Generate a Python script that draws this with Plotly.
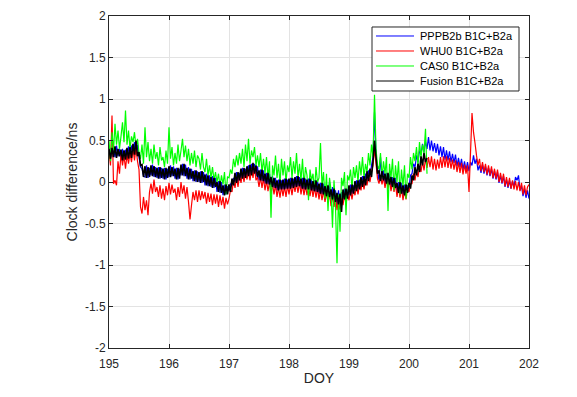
import plotly.graph_objects as go

# ---------------- data ----------------
start_doy = 195.0
step_doy = 0.025

series_names = ["PPPB2b B1C+B2a", "WHU0 B1C+B2a", "CAS0 B1C+B2a", "Fusion B1C+B2a"]

pppb2b = [
    0.29, 0.41, 0.30, 0.42, 0.30, 0.44, 0.31, 0.40, 0.27, 0.40, 0.26, 0.39,
    0.29, 0.43, 0.30, 0.44, 0.34, 0.48, 0.33, 0.45, 0.30, 0.18, 0.16, 0.07,
    0.06, 0.20, 0.05, 0.17, 0.08, 0.21, 0.06, 0.18, 0.05, 0.18, 0.04, 0.17,
    0.04, 0.17, 0.03, 0.16, 0.06, 0.20, 0.07, 0.19, 0.04, 0.17, 0.03, 0.16,
    0.08, 0.22, 0.07, 0.21, 0.04, 0.18, 0.03, 0.16, 0.01, 0.14, 0.00, 0.13,
    0.00, 0.13, -0.01, 0.12, -0.04, 0.10, -0.05, 0.08, -0.06, 0.07, -0.07, 0.05,
    -0.12, 0.01, -0.13, 0.00, -0.16, -0.03, -0.15, -0.05, -0.11, -0.02, -0.05, 0.05,
    0.00, 0.12, -0.01, 0.11, 0.05, 0.17, 0.04, 0.16, 0.08, 0.20, 0.07, 0.22,
    0.10, 0.22, 0.07, 0.19, 0.02, 0.15, 0.01, 0.14, -0.02, 0.11, -0.03, 0.10,
    -0.06, 0.07, -0.07, 0.05, -0.10, 0.03, -0.09, 0.02, -0.09, 0.04, -0.08, 0.03,
    -0.08, 0.05, -0.07, 0.04, -0.06, 0.07, -0.05, 0.06, -0.08, 0.05, -0.09, 0.04,
    -0.09, 0.04, -0.10, 0.03, -0.11, 0.02, -0.12, 0.01, -0.14, -0.01, -0.15, -0.02,
    -0.17, -0.04, -0.18, 0.00, -0.21, -0.06, -0.24, -0.10, -0.30, -0.10, -0.33, -0.12,
    -0.21, -0.08, -0.20, -0.09, -0.16, -0.03, -0.14, -0.04, -0.11, 0.02, -0.09, 0.03,
    -0.06, 0.07, -0.04, 0.10, 0.01, 0.14, 0.06, 0.20, 0.30, 0.84, 0.35, 0.12,
    0.02, 0.30, 0.03, 0.14, -0.02, 0.11, -0.03, 0.10, -0.06, 0.06, -0.07, 0.05,
    -0.13, 0.00, -0.14, -0.01, -0.16, -0.03, -0.13, -0.04, -0.06, 0.08, 0.10, 0.22,
    0.18, 0.32, 0.24, 0.38, 0.33, 0.46, 0.36, 0.49, 0.40, 0.54, 0.38, 0.50,
    0.37, 0.47, 0.35, 0.46, 0.32, 0.43, 0.30, 0.42, 0.27, 0.38, 0.26, 0.37,
    0.24, 0.34, 0.23, 0.33, 0.19, 0.29, 0.18, 0.28, 0.15, 0.25, 0.14, 0.24,
    0.13, 0.24, 0.20, 0.32, 0.22, 0.28, 0.14, 0.20, 0.11, 0.21, 0.10, 0.19,
    0.08, 0.17, 0.07, 0.16, 0.04, 0.13, 0.03, 0.12, -0.01, 0.08, -0.02, 0.07,
    -0.06, 0.03, -0.07, 0.02, -0.08, 0.01, -0.06, 0.06, 0.02, 0.08, -0.10, -0.04,
    -0.17, -0.08, -0.19, -0.10, -0.20,
]

whu0 = [
    0.36, 0.20, 0.80, -0.02, 0.02, -0.04, 0.25, 0.10, 0.34, 0.20, 0.32, 0.16,
    0.33, 0.22, 0.35, 0.24, 0.40, 0.26, 0.42, 0.25, 0.15, -0.30, -0.38, -0.18,
    -0.34, -0.22, -0.40, -0.12, -0.02, -0.14, 0.03, -0.12, -0.06, -0.18, -0.04, -0.20,
    -0.08, -0.22, -0.05, -0.16, -0.01, -0.15, -0.03, -0.13, -0.08, -0.22, -0.06, -0.18,
    0.00, -0.14, -0.04, -0.20, -0.06, -0.24, -0.45, -0.28, -0.12, -0.22, -0.10, -0.24,
    -0.10, -0.22, -0.11, -0.20, -0.12, -0.26, -0.13, -0.24, -0.14, -0.28, -0.15, -0.26,
    -0.15, -0.30, -0.16, -0.28, -0.18, -0.32, -0.19, -0.27, -0.20, -0.10, -0.12, 0.02,
    -0.07, 0.06, -0.06, 0.08, -0.01, 0.11, 0.00, 0.12, 0.03, 0.14, 0.02, 0.16,
    0.05, 0.18, 0.02, 0.06, -0.06, 0.06, -0.07, 0.05, -0.10, 0.02, -0.11, 0.00,
    -0.14, -0.02, -0.15, -0.03, -0.18, -0.06, -0.19, -0.05, -0.17, -0.05, -0.18, -0.04,
    -0.15, -0.03, -0.16, -0.02, -0.12, -0.01, -0.13, 0.00, -0.15, -0.03, -0.16, -0.04,
    -0.16, -0.04, -0.17, -0.05, -0.18, -0.06, -0.19, -0.07, -0.21, -0.09, -0.22, -0.10,
    -0.24, -0.12, -0.25, -0.13, -0.29, -0.16, -0.30, -0.17, -0.34, -0.20, -0.33, -0.19,
    -0.28, -0.15, -0.27, -0.14, -0.22, -0.10, -0.21, -0.09, -0.16, -0.04, -0.15, -0.03,
    -0.10, 0.02, -0.09, 0.03, -0.04, 0.08, 0.00, 0.12, 0.20, 0.40, 0.22, 0.04,
    -0.02, 0.08, -0.03, 0.06, -0.07, 0.04, -0.08, 0.03, -0.11, 0.00, -0.12, -0.02,
    -0.18, -0.06, -0.19, -0.07, -0.22, -0.10, -0.21, -0.08, -0.12, -0.02, -0.02, 0.10,
    0.02, 0.14, 0.06, 0.19, 0.12, 0.25, 0.14, 0.28, 0.17, 0.30, 0.18, 0.31,
    0.15, 0.28, 0.14, 0.27, 0.16, 0.30, 0.17, 0.31, 0.18, 0.31, 0.17, 0.29,
    0.16, 0.27, 0.15, 0.26, 0.12, 0.24, 0.11, 0.23, 0.09, 0.21, 0.10, 0.20,
    -0.12, 0.35, 0.83, 0.60, 0.47, 0.32, 0.20, 0.28, 0.13, 0.24, 0.12, 0.22,
    0.09, 0.20, 0.08, 0.19, 0.05, 0.16, 0.04, 0.15, 0.00, 0.11, -0.01, 0.10,
    -0.05, 0.06, -0.06, 0.05, -0.08, 0.02, -0.09, 0.01, -0.10, 0.00, -0.11, -0.01,
    -0.15, -0.04, -0.16, -0.06, -0.03,
]

cas0 = [
    0.50, 0.25, 0.60, 0.38, 0.70, 0.45, 0.62, 0.40, 0.55, 0.72, 0.48, 0.86,
    0.45, 0.62, 0.40, 0.55, 0.48, 0.60, 0.42, 0.52, 0.35, 0.28, 0.45, 0.22,
    0.66, 0.30, 0.48, 0.25, 0.40, 0.22, 0.45, 0.28, 0.36, 0.20, 0.42, 0.26,
    0.30, 0.18, 0.38, 0.22, 0.66, 0.28, 0.42, 0.20, 0.35, 0.22, 0.45, 0.25,
    0.38, 0.52, 0.30, 0.44, 0.25, 0.40, 0.20, 0.35, 0.22, 0.38, 0.18, 0.32,
    0.28, 0.15, 0.35, 0.18, 0.12, 0.28, 0.08, 0.20, 0.05, 0.18, 0.02, 0.12,
    0.00, 0.10, -0.05, 0.08, -0.03, 0.12, -0.15, 0.06, 0.05, 0.15, 0.10, 0.28,
    0.18, 0.32, 0.20, 0.35, 0.22, 0.40, 0.18, 0.45, 0.25, 0.52, 0.22, 0.38,
    0.30, 0.42, 0.20, 0.32, 0.18, 0.35, 0.12, 0.28, 0.10, 0.30, 0.05, 0.25,
    -0.43, 0.20, 0.08, 0.32, 0.05, 0.22, -0.02, 0.28, 0.08, 0.25, 0.00, 0.20,
    0.12, 0.30, 0.05, 0.25, 0.10, 0.35, 0.05, 0.22, 0.02, 0.28, -0.05, 0.18,
    0.08, -0.22, 0.15, 0.02, 0.10, -0.10, 0.18, 0.00, 0.05, 0.47, -0.05, 0.12,
    -0.20, 0.10, -0.35, 0.05, -0.10, -0.55, 0.02, -0.30, -0.98, -0.15, -0.60, 0.05,
    -0.05, 0.12, -0.40, 0.08, 0.02, 0.15, -0.08, 0.18, 0.05, 0.20, 0.00, 0.25,
    0.08, 0.30, 0.05, 0.22, 0.12, 0.35, 0.20, 0.45, 0.30, 1.05, 0.40, 0.20,
    0.15, 0.35, 0.05, 0.25, 0.10, 0.30, -0.35, 0.22, 0.05, 0.28, -0.10, 0.20,
    0.00, 0.25, -0.15, 0.15, -0.05, 0.20, -0.20, 0.10, 0.05, 0.30, 0.15, 0.35,
    0.25, 0.42, 0.20, 0.48, 0.30, 0.45, 0.35, 0.64, 0.10,
]

fusion = [
    0.40, 0.28, 0.41, 0.30, 0.43, 0.29, 0.40, 0.31, 0.39, 0.26, 0.38, 0.27,
    0.41, 0.28, 0.42, 0.29, 0.46, 0.33, 0.50, 0.31, 0.36, 0.20, 0.21, 0.06,
    0.19, 0.05, 0.18, 0.06, 0.20, 0.07, 0.19, 0.06, 0.17, 0.04, 0.18, 0.05,
    0.16, 0.03, 0.17, 0.05, 0.19, 0.06, 0.18, 0.07, 0.16, 0.03, 0.17, 0.04,
    0.21, 0.08, 0.22, 0.07, 0.17, 0.03, 0.16, 0.04, 0.13, 0.01, 0.14, 0.00,
    0.12, -0.01, 0.13, 0.00, 0.09, -0.04, 0.08, -0.05, 0.06, -0.07, 0.05, -0.06,
    0.00, -0.12, 0.01, -0.13, -0.04, -0.16, -0.03, -0.15, -0.03, -0.12, 0.04, -0.04,
    0.11, -0.01, 0.12, 0.02, 0.16, 0.04, 0.17, 0.05, 0.19, 0.07, 0.21, 0.08,
    0.23, 0.10, 0.20, 0.06, 0.14, 0.02, 0.15, 0.01, 0.10, -0.02, 0.11, -0.03,
    0.06, -0.06, 0.05, -0.07, 0.02, -0.10, 0.03, -0.09, 0.03, -0.09, 0.04, -0.08,
    0.04, -0.08, 0.05, -0.07, 0.06, -0.06, 0.07, -0.05, 0.04, -0.08, 0.05, -0.09,
    0.03, -0.09, 0.04, -0.10, 0.01, -0.11, 0.02, -0.12, -0.02, -0.14, -0.01, -0.15,
    -0.05, -0.17, -0.04, -0.18, -0.09, -0.21, -0.08, -0.24, -0.13, -0.27, -0.14, -0.36,
    -0.09, -0.21, -0.08, -0.20, -0.04, -0.16, -0.03, -0.14, 0.01, -0.11, 0.02, -0.09,
    0.06, -0.06, 0.07, -0.04, 0.13, 0.01, 0.16, 0.06, 0.25, 0.50, 0.30, 0.10,
    0.14, 0.01, 0.13, 0.02, 0.10, -0.02, 0.11, -0.03, 0.06, -0.06, 0.05, -0.07,
    -0.01, -0.13, 0.00, -0.14, -0.04, -0.16, -0.03, -0.13, -0.01, -0.08, 0.08, 0.02,
    0.18, 0.08, 0.22, 0.12, 0.31, 0.20, 0.35, 0.24, 0.29,
]

x_tick_vals = [195, 196, 197, 198, 199, 200, 201, 202]
y_tick_vals = [-2, -1.5, -1, -0.5, 0, 0.5, 1, 1.5, 2]
y_tick_text = ["-2", "-1.5", "-1", "-0.5", "0", "0.5", "1", "1.5", "2"]

colors = ["#0000ff", "#ff0000", "#00ff00", "#000000"]
line_widths = [1.2, 1.2, 1.2, 1.6]

# ---------------- figure ----------------
def doy_axis(values):
    return [start_doy + i * step_doy for i in range(len(values))]

fig = go.Figure()
for name, vals, col, lw in zip(series_names, [pppb2b, whu0, cas0, fusion], colors, line_widths):
    fig.add_trace(go.Scatter(
        x=doy_axis(vals), y=vals, mode="lines", name=name,
        line=dict(color=col, width=lw, simplify=False),
        showlegend=False,
    ))

axis_col = "#262626"
font_family = "Liberation Sans, Arial, Helvetica, sans-serif"

# Manual MATLAB-like legend, positioned in axes (paper) fractions
leg_box = dict(x0=0.6262, x1=0.9762, y0=0.7741, y1=0.9669)
leg_rows = [0.9398, 0.8946, 0.8494, 0.8042]
leg_line_x = (0.6357, 0.7262)
leg_text_x = 0.7357

shapes = [dict(type="rect", xref="paper", yref="paper", **leg_box,
               line=dict(color=axis_col, width=1), fillcolor="white", layer="above")]
annotations = []
for name, col, yy in zip(series_names, colors, leg_rows):
    shapes.append(dict(type="line", xref="paper", yref="paper",
                       x0=leg_line_x[0], x1=leg_line_x[1], y0=yy, y1=yy,
                       line=dict(color=col, width=1), layer="above"))
    annotations.append(dict(xref="paper", yref="paper", x=leg_text_x, y=yy,
                            xanchor="left", yanchor="middle", showarrow=False,
                            text=name, font=dict(size=11, color="#000000")))

fig.update_layout(
    width=569, height=389,
    margin=dict(l=101, r=48, t=8, b=49),
    paper_bgcolor="white", plot_bgcolor="white",
    font=dict(family=font_family, size=12, color=axis_col),
    showlegend=False,
    shapes=shapes,
    annotations=annotations,
    xaxis=dict(
        range=[195, 202], tickvals=x_tick_vals,
        ticktext=[str(v) for v in x_tick_vals],
        showgrid=True, gridcolor="#e3e3e3", gridwidth=1,
        showline=True, linecolor=axis_col, linewidth=1, mirror="ticks",
        ticks="inside", ticklen=4, tickcolor=axis_col,
        ticklabelstandoff=5,
        zeroline=False, automargin=False,
        title=dict(text="DOY", font=dict(size=14, color=axis_col), standoff=2),
    ),
    yaxis=dict(
        range=[-2, 2], tickvals=y_tick_vals, ticktext=y_tick_text,
        showgrid=True, gridcolor="#e3e3e3", gridwidth=1,
        showline=True, linecolor=axis_col, linewidth=1, mirror="ticks",
        ticks="inside", ticklen=4, tickcolor=axis_col,
        zeroline=False, automargin=False,
        title=dict(text="Clock difference/ns", font=dict(size=14, color=axis_col), standoff=4),
    ),
)

fig.write_html("out.html")
